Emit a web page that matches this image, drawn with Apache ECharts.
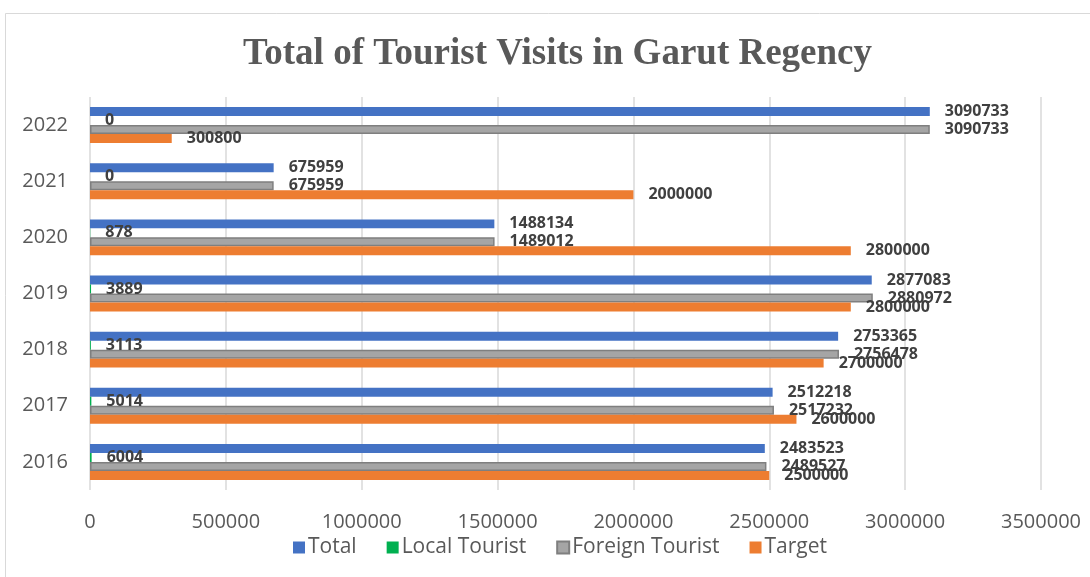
<!DOCTYPE html>
<html>
<head>
<meta charset="utf-8">
<script src="https://cdn.jsdelivr.net/npm/echarts@6/dist/echarts.min.js"></script>
<style>
  html, body { margin: 0; padding: 0; background: #fff; }
  #chart { width: 1090px; height: 577px; }
</style>
</head>
<body>
<div id="chart"></div>
<script>
// data
const years = ['2016', '2017', '2018', '2019', '2020', '2021', '2022'];
const total = [2483523, 2512218, 2753365, 2877083, 1488134, 675959, 3090733];
const localTourist = [6004, 5014, 3113, 3889, 878, 0, 0];
const foreignTourist = [2489527, 2517232, 2756478, 2880972, 1489012, 675959, 3090733];
const target = [2500000, 2600000, 2700000, 2800000, 2800000, 2000000, 300800];

const chart = echarts.init(document.getElementById('chart'));

const axisFont = '"Open Sans", "Noto Sans", sans-serif';
const barLabel = {
    show: true,
    position: 'right',
    distance: 15,
    color: '#404040',
    fontWeight: 'bold',
    fontSize: 16,
    fontFamily: axisFont
};

const option = {
    animation: false,
    backgroundColor: '#fff',
    graphic: [{
        type: 'rect',
        shape: { x: 5.5, y: 13.5, width: 1200, height: 700 },
        style: { fill: 'none', stroke: '#d9d9d9', lineWidth: 1 },
        silent: true
    }],
    title: {
        text: 'Total of Tourist Visits in Garut Regency',
        left: 238,
        top: 31,
        textStyle: {
            fontFamily: '"Liberation Serif", "Times New Roman", serif',
            fontWeight: 'bold',
            fontSize: 37,
            color: '#595959'
        }
    },
    legend: {
        bottom: 14,
        left: 288,
        itemWidth: 12,
        itemHeight: 12,
        itemGap: 30,
        icon: 'rect',
        data: ['Total', 'Local Tourist', 'Foreign Tourist', 'Target'],
        textStyle: { fontFamily: axisFont, fontSize: 21, color: '#595959', padding: [0, 0, 0, -2] }
    },
    grid: { left: 90, right: 49, top: 97, height: 393, containLabel: false },
    xAxis: {
        type: 'value',
        min: 0,
        max: 3500000,
        interval: 500000,
        axisLine: { show: false },
        axisTick: { show: false },
        splitLine: { lineStyle: { color: '#d9d9d9', width: 1.5 } },
        axisLabel: {
            fontFamily: axisFont, fontSize: 20, color: '#595959', margin: 22,
            formatter: v => String(v)
        }
    },
    yAxis: {
        type: 'category',
        data: years,
        axisLine: { show: false },
        axisTick: { show: false },
        axisLabel: { fontFamily: axisFont, fontSize: 20, color: '#595959', margin: 22 }
    },
    series: [
        {
            name: 'Total', type: 'bar', data: total,
            barGap: '0%', barCategoryGap: '36%',
            itemStyle: { color: '#4472c4' },
            label: barLabel
        },
        {
            name: 'Local Tourist', type: 'bar', data: localTourist,
            itemStyle: { color: '#00b050' },
            label: barLabel
        },
        {
            name: 'Foreign Tourist', type: 'bar', data: foreignTourist,
            itemStyle: { color: '#a5a5a5', borderColor: '#7f7f7f', borderWidth: 1.5 },
            label: barLabel
        },
        {
            name: 'Target', type: 'bar', data: target,
            itemStyle: { color: '#ed7d31' },
            label: barLabel
        }
    ]
};

chart.setOption(option);
</script>
</body>
</html>
